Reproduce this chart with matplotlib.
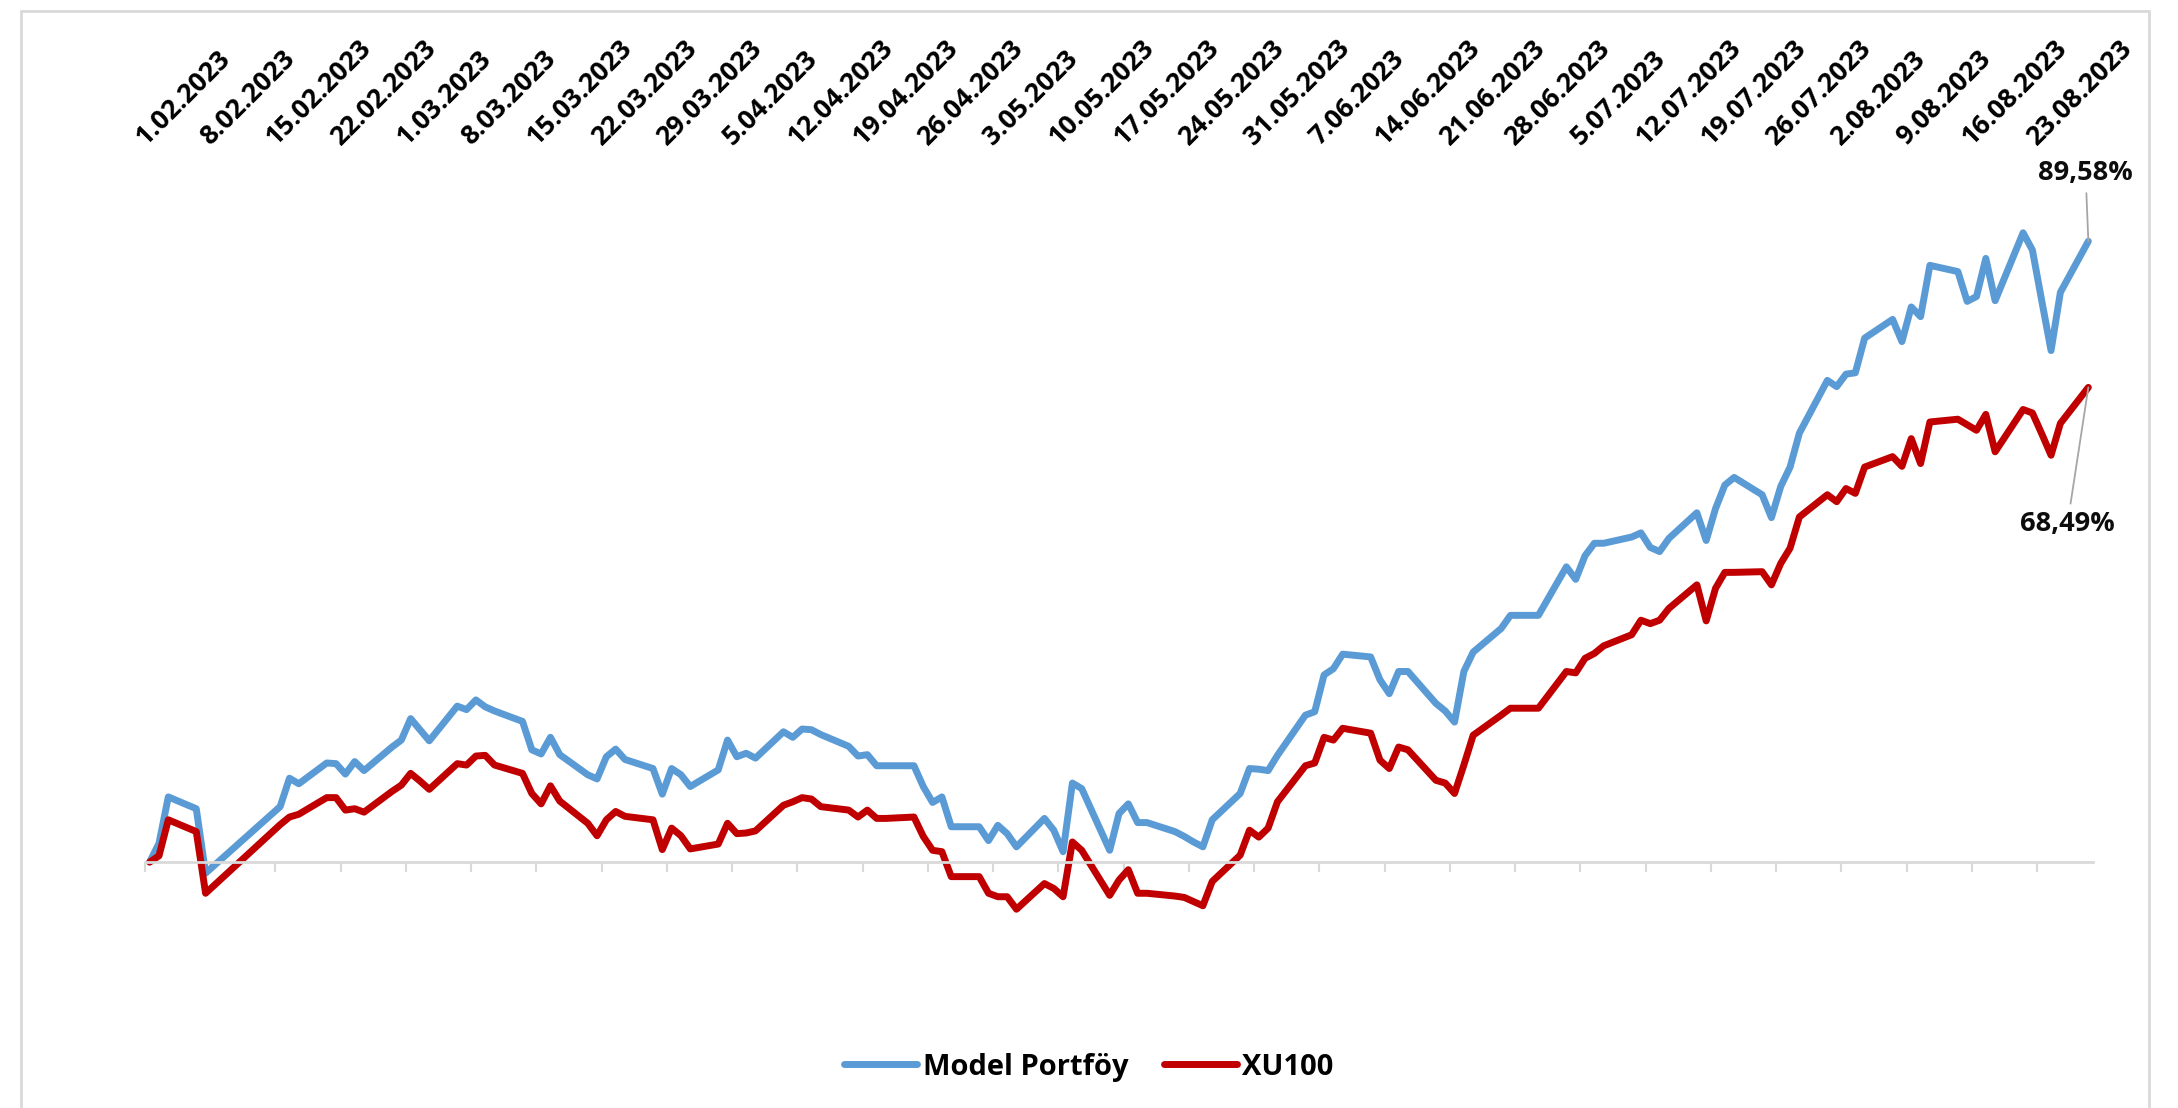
import pandas as pd
import matplotlib
matplotlib.use('Agg')
import matplotlib.pyplot as plt
import matplotlib.dates as mdates
import matplotlib.transforms as mtransforms
from matplotlib.lines import Line2D
from matplotlib.patches import Rectangle

plt.rcParams['font.family'] = ['Open Sans', 'DejaVu Sans']

# trading days (dd.mm, 2023), one row per week
dates = [
    '01.02', '02.02', '03.02', '06.02', '07.02',
    '15.02', '16.02', '17.02',
    '20.02', '21.02', '22.02', '23.02', '24.02',
    '27.02', '28.02', '01.03', '02.03', '03.03',
    '06.03', '07.03', '08.03', '09.03', '10.03',
    '13.03', '14.03', '15.03', '16.03', '17.03',
    '20.03', '21.03', '22.03', '23.03', '24.03',
    '27.03', '28.03', '29.03', '30.03', '31.03',
    '03.04', '04.04', '05.04', '06.04', '07.04',
    '10.04', '11.04', '12.04', '13.04', '14.04',
    '17.04', '18.04', '19.04', '20.04', '21.04',
    '24.04', '25.04', '26.04', '27.04', '28.04',
    '01.05', '02.05', '03.05', '04.05', '05.05',
    '08.05', '09.05', '10.05', '11.05', '12.05',
    '15.05', '16.05', '17.05', '18.05', '19.05',
    '22.05', '23.05', '24.05', '25.05', '26.05',
    '29.05', '30.05', '31.05', '01.06', '02.06',
    '05.06', '06.06', '07.06', '08.06', '09.06',
    '12.06', '13.06', '14.06', '15.06', '16.06',
    '19.06', '20.06', '21.06', '22.06', '23.06',
    '26.06', '27.06', '28.06', '29.06', '30.06',
    '03.07', '04.07', '05.07', '06.07', '07.07',
    '10.07', '11.07', '12.07', '13.07', '14.07',
    '17.07', '18.07', '19.07', '20.07', '21.07',
    '24.07', '25.07', '26.07', '27.07', '28.07',
    '31.07', '01.08', '02.08', '03.08', '04.08',
    '07.08', '08.08', '09.08', '10.08', '11.08',
    '14.08', '15.08', '16.08', '17.08', '18.08',
    '21.08', '22.08', '23.08', '24.08', '25.08',
    '28.08',
]

# cumulative return, %
model_portfoy = [
    0.0, 2.7, 9.4, 7.7, -1.6,
    8.0, 12.1, 11.3,
    14.3, 14.2, 12.7, 14.5, 13.2,
    16.6, 17.6, 20.7, 19.1, 17.5,
    22.5, 22.0, 23.4, 22.4, 21.8,
    20.3, 16.2, 15.6, 18.0, 15.5,
    12.6, 12.0, 15.2, 16.3, 14.8,
    13.5, 9.8, 13.5, 12.6, 10.9,
    13.3, 17.6, 15.2, 15.7, 15.0,
    18.8, 18.0, 19.2, 19.1, 18.4,
    16.7, 15.3, 15.5, 13.9, 13.9,
    13.9, 10.9, 8.6, 9.4, 5.1,
    5.1, 3.1, 5.3, 4.1, 2.2,
    6.3, 4.6, 1.5, 11.4, 10.6,
    1.7, 7.0, 8.4, 5.7, 5.7,
    4.4, 3.7, 2.9, 2.2, 6.1,
    9.9, 13.5, 13.4, 13.2, 15.4,
    21.2, 21.7, 27.0, 27.9, 30.0,
    29.6, 26.3, 24.3, 27.5, 27.5,
    22.9, 21.8, 20.2, 27.5, 30.3,
    33.7, 35.6, 35.6, 35.6, 35.6,
    42.6, 40.8, 44.2, 46.0, 46.0,
    46.9, 47.5, 45.4, 44.8, 46.7,
    50.4, 46.4, 51.0, 54.4, 55.5,
    53.0, 49.7, 54.2, 57.0, 61.9,
    69.5, 68.6, 70.4, 70.6, 75.6,
    78.3, 75.1, 80.1, 78.7, 86.1,
    85.2, 80.9, 81.6, 87.1, 81.0,
    90.8, 88.3, 81.0, 73.8, 82.2,
    89.58,
]

xu100 = [
    0.0, 0.9, 6.1, 4.4, -4.5,
    5.4, 6.5, 6.9,
    9.3, 9.3, 7.5, 7.7, 7.2,
    10.2, 11.1, 12.8, 11.7, 10.5,
    14.2, 14.0, 15.3, 15.4, 14.0,
    12.8, 9.9, 8.4, 11.0, 8.8,
    5.6, 3.8, 6.1, 7.3, 6.6,
    6.1, 1.8, 4.9, 3.8, 1.9,
    2.6, 5.6, 4.1, 4.2, 4.5,
    8.2, 8.7, 9.3, 9.1, 8.0,
    7.5, 6.5, 7.5, 6.3, 6.3,
    6.5, 3.7, 1.7, 1.5, -2.1,
    -2.1, -4.5, -5.0, -5.0, -6.8,
    -3.1, -3.8, -5.0, 2.9, 1.7,
    -4.8, -2.6, -1.1, -4.5, -4.5,
    -4.9, -5.1, -5.7, -6.3, -2.8,
    1.0, 4.6, 3.6, 4.9, 8.7,
    13.9, 14.3, 18.0, 17.6, 19.3,
    18.6, 14.7, 13.5, 16.6, 16.2,
    11.8, 11.4, 9.9, 14.0, 18.3,
    21.2, 22.2, 22.2, 22.2, 22.2,
    27.5, 27.3, 29.4, 30.1, 31.2,
    32.8, 34.9, 34.4, 34.9, 36.6,
    40.0, 34.8, 39.5, 41.8, 41.8,
    41.9, 40.0, 43.1, 45.3, 49.8,
    53.0, 52.0, 53.9, 53.2, 57.0,
    58.5, 57.1, 61.1, 57.5, 63.5,
    63.9, 63.1, 62.3, 64.6, 59.2,
    65.3, 64.8, 61.8, 58.7, 63.3,
    68.49,
]

tick_labels = ['1.02.2023', '8.02.2023', '15.02.2023', '22.02.2023', '1.03.2023',
               '8.03.2023', '15.03.2023', '22.03.2023', '29.03.2023', '5.04.2023',
               '12.04.2023', '19.04.2023', '26.04.2023', '3.05.2023', '10.05.2023',
               '17.05.2023', '24.05.2023', '31.05.2023', '7.06.2023', '14.06.2023',
               '21.06.2023', '28.06.2023', '5.07.2023', '12.07.2023', '19.07.2023',
               '26.07.2023', '2.08.2023', '9.08.2023', '16.08.2023', '23.08.2023']

blue = '#5B9BD5'
red = '#C00000'
grey = '#D9D9D9'

x = mdates.date2num(pd.to_datetime([d + '.2023' for d in dates], format='%d.%m.%Y'))
# excel date axis: tick sits at the start of the day, point in the middle
tick_x = mdates.date2num(pd.to_datetime(tick_labels, format='%d.%m.%Y')) - 0.5

fig = plt.figure(figsize=(21.78, 11.08), dpi=100)
ax = fig.add_axes([145 / 2178, 108 / 1108, 1948 / 2178, 840 / 1108])

ax.plot(x, model_portfoy, color=blue, lw=5.0, solid_joinstyle='round', solid_capstyle='round')
ax.plot(x, xu100, color=red, lw=5.0, solid_joinstyle='round', solid_capstyle='round')

ax.set_xlim(x[0] - 0.5, x[-1] + 0.5)
ax.set_ylim(-19.9, 101.3)

for s in ['top', 'right', 'left']:
    ax.spines[s].set_visible(False)
ax.spines['bottom'].set_position(('data', 0))
ax.spines['bottom'].set_color(grey)
ax.spines['bottom'].set_linewidth(2)
ax.set_yticks([])
ax.set_xticks(tick_x)
ax.tick_params(axis='x', direction='out', length=7, width=1.5, color=grey, labelbottom=False)

# date labels sit above the plot, rotated
trans = mtransforms.blended_transform_factory(ax.transData, ax.transAxes)
for t, lab in zip(tick_x, tick_labels):
    ax.text(t, 1.017, lab, transform=trans, rotation=45, rotation_mode='anchor',
            ha='left', va='baseline', fontsize=19.2, fontweight='bold', color='black')

# end-of-period labels
ax.annotate('89,58%', xy=(x[-1], model_portfoy[-1]), xytext=(-2, 49), textcoords='offset points',
            ha='center', va='center', fontsize=19.5, fontweight='bold', color='#0d0d0d',
            arrowprops=dict(arrowstyle='-', color='#a6a6a6', lw=1.3, shrinkA=3, shrinkB=0))
ax.annotate('68,49%', xy=(x[-1], xu100[-1]), xytext=(-15, -98), textcoords='offset points',
            ha='center', va='center', fontsize=19.5, fontweight='bold', color='#0d0d0d',
            arrowprops=dict(arrowstyle='-', color='#a6a6a6', lw=1.3, shrinkA=3, shrinkB=0))

handles = [Line2D([], [], color=blue, lw=5.0, solid_capstyle='round'),
           Line2D([], [], color=red, lw=5.0, solid_capstyle='round')]
fig.legend(handles, ['Model Portföy', 'XU100'], loc='center', bbox_to_anchor=(0.5, 0.037),
           ncol=2, frameon=False, prop=dict(weight='bold', size=21),
           handlelength=2.5, handletextpad=0.2, columnspacing=1.2)

# light chart border
fig.patches.append(Rectangle((21 / 2178, -0.01), 2128 / 2178, 1.0 - 11 / 1108 + 0.01,
                             transform=fig.transFigure, fill=False, ec=grey, lw=2))

fig.savefig('out.png', dpi=100)
